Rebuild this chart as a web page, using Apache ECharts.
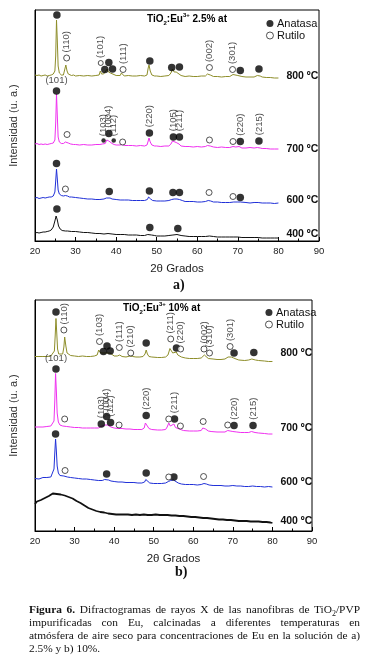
<!DOCTYPE html>
<html><head><meta charset="utf-8">
<script src="https://cdn.jsdelivr.net/npm/echarts@6/dist/echarts.min.js"></script>
<style>
html,body{margin:0;padding:0;background:#fff;}
#c{width:366px;height:660px;position:absolute;left:0;top:0;}
#cap{position:absolute;left:29px;top:603px;width:331px;font-family:"Liberation Serif","DejaVu Serif",serif;font-size:11.4px;line-height:13px;color:#111;}
#cap div{text-align:justify;text-align-last:justify;}
#cap div.last{text-align:left;text-align-last:left;}
</style></head>
<body>
<div id="c"></div>
<div id="cap">
<div><b>Figura 6.</b> Difractogramas de rayos X de las nanofibras de TiO<sub style="font-size:8px;line-height:0">2</sub>/PVP</div>
<div>impurificadas con Eu, calcinadas a diferentes temperaturas en</div>
<div>atmósfera de aire seco para concentraciones de Eu en la solución de a)</div>
<div class="last">2.5% y b) 10%.</div>
</div>
<script>
// ---------- Panel a: TiO2:Eu3+ 2.5% at  (2θ, intensity a.u.) ----------
const a800 = [[20,166],[20.5,165.5],[21,166],[21.5,165],[22,165.5],[22.5,166],[23,165],[23.5,165.5],[24,166],[24.5,167],[24.9,170],[25.1,185],[25.3,221],[25.5,200],[25.7,175],[26,168],[26.5,166],[27,166],[27.4,168],[27.6,176],[27.9,170],[28.2,167],[28.5,166],[29,165.5],[29.5,166],[30,165],[31,165.5],[32,165],[33,165.5],[34,165],[35,165.5],[35.8,166],[36.1,170],[36.4,167],[36.9,167],[37.3,168],[37.8,172],[38.1,169],[38.6,168],[39,166.5],[40,165.5],[41,165.5],[41.3,168],[41.6,166],[42,165],[43,165.5],[44,165],[45,165],[46,165.5],[47,165],[47.6,166],[47.9,173],[48.1,176],[48.4,170],[48.8,166],[49.5,165],[50,165],[51,164.5],[52,165],[53,165.5],[53.5,168],[53.9,172],[54.3,169],[54.8,169],[55.1,171],[55.5,167],[56,165.5],[57,164.5],[58,165],[59,164.5],[60,164.5],[61,165],[62,165],[62.5,167],[62.8,169],[63.2,166],[64,164.5],[65,164.5],[66,164],[67,164.5],[68,164.5],[68.8,166.5],[69.2,166],[70,165.5],[70.4,166.5],[71,164.5],[72,164],[73,164],[74,164],[74.8,165.5],[75.1,167],[75.5,165],[76,164],[77,163.5],[78,163.5],[79,163],[80,163]];
const a700 = [[20,97],[20.5,97.5],[21,96.5],[21.5,97],[22,96.5],[22.5,97],[23,96.5],[23.5,97],[24,97.5],[24.5,98],[24.9,101],[25.1,118],[25.3,147],[25.5,125],[25.7,104],[26,99],[26.5,97.5],[27,97.5],[27.5,99],[27.8,100],[28.2,98],[28.8,97],[29.5,96.5],[30,96.5],[31,96],[32,96.5],[33,96],[34,96],[35,96.5],[36,96.5],[36.6,97],[36.9,98],[37.3,97.5],[37.7,101],[37.9,103],[38.2,100],[38.6,99],[39,97.5],[39.5,96.5],[40,96],[41,96],[41.5,96.5],[42,95.5],[43,95.5],[44,95.5],[45,95],[46,95.5],[47,95],[47.6,96],[47.9,100],[48.1,103],[48.4,99],[48.8,96],[49.5,95],[50,95],[51,94.5],[52,95],[53,95],[53.5,97],[53.9,100],[54.3,98],[54.8,98.5],[55.1,100],[55.5,97],[56,95],[57,94.5],[58,94.5],[59,94],[60,94.5],[61,94],[62,94.5],[62.5,95.5],[62.8,96.5],[63.2,95],[64,94],[65,93.5],[66,94],[67,93.5],[68,93.5],[68.8,94.5],[69.5,94],[70.3,94.5],[71,93],[72,93],[73,93.5],[74,93],[74.8,93.5],[75.1,94],[75.5,93],[76,92.5],[77,92.5],[78,92],[79,92],[80,92]];
const a600 = [[20,43],[20.5,43.5],[21,42.5],[21.5,43],[22,43.5],[22.5,43],[23,43.5],[23.5,44],[24,44],[24.5,45],[24.9,49],[25.1,60],[25.3,72],[25.5,62],[25.7,51],[26,47],[26.5,45.5],[27,45],[27.5,45.5],[28,45],[28.5,44],[29,44],[30,43.5],[31,43],[32,42.5],[33,42],[34,42],[35,41.5],[36,41.5],[37,42],[37.6,43],[38,43.5],[38.5,43],[39,42],[40,41.5],[41,41],[42,41],[43,41],[44,40.5],[45,40.5],[46,40.5],[47,40.5],[47.7,41.5],[48,44],[48.2,45],[48.5,42],[49,40.5],[50,40],[51,40],[52,40],[53,40.5],[53.7,41.5],[54.3,42],[55,42],[55.6,41.5],[56.3,40.5],[57,39.5],[58,39.5],[59,39.5],[60,39],[61,39],[62,39.5],[62.7,40.5],[63.3,40],[64,39],[65,39],[66,38.5],[67,38.5],[68,38.5],[69,39],[70,39],[70.6,39],[71,38.5],[72,38.5],[73,38],[74,38.5],[75,38.5],[76,38],[77,38],[78,38],[79,37.5],[80,38]];
const a400 = [[20,8],[20.5,8.5],[21,8],[21.5,8.5],[22,9],[22.5,9],[23,9.5],[23.5,10],[24,11],[24.5,14],[24.9,20],[25.2,25],[25.5,21],[25.8,15],[26.2,12],[26.7,10.5],[27.5,10],[28,10],[29,9.5],[30,9.5],[31,9],[32,8.5],[33,8.5],[34,8],[35,7.5],[36,7.5],[37,7],[38,7.5],[39,7],[40,6.5],[41,6.5],[42,6.5],[43,6],[44,6],[45,6],[46,5.5],[47,5.5],[47.8,6.5],[48.2,7.5],[48.7,6],[49.5,5.5],[50,5],[51,5],[52,5],[53,5.5],[54,6],[55,6.5],[56,5.5],[57,5],[58,4.5],[59,4.5],[60,4.5],[61,4.5],[62,4.5],[63,5],[64,4.5],[65,4],[66,4],[67,4],[68,4],[69,4],[70,4],[71,3.5],[72,3.5],[73,3.5],[74,3.5],[75,3.5],[76,3],[77,3],[78,3],[79,3],[80,3]];
// markers: [2θ, height, kind (L big / S small), hkl label, label orientation (v / h)]
const anaA = [[25.4,226,'L','',''],[37.2,171.5,'L','',''],[38.2,178.5,'L','',''],[39.1,172,'L','',''],[48.3,180,'L','',''],[53.7,173.5,'L','',''],[55.6,174,'L','',''],[70.6,170.5,'L','',''],[75.2,172,'L','',''],
  [25.3,150,'L','(101)','h'],[36.9,100.5,'S','(103)','v'],[38.2,107.5,'L','(004)','v'],[39.4,100.5,'S','(112)','v'],[48.2,108,'L','(220)','v'],[54.1,104,'L','(105)','v'],[55.6,104,'L','(211)','v'],[70.6,99.5,'L','(220)','v'],[75.2,100,'L','(215)','v'],
  [25.3,77.5,'L','',''],[38.3,49.5,'L','',''],[48.2,50,'L','',''],[54.0,48.5,'L','',''],[55.6,48.5,'L','',''],[70.6,43.5,'L','',''],
  [25.4,32,'L','',''],[48.3,13.5,'L','',''],[55.2,12.5,'L','','']];
const rutA = [[27.8,183,'L','(110)','v'],[36.2,178,'S','(101)','v'],[41.7,171.5,'L','(111)','v'],[63.0,173.5,'L','(002)','v'],[68.7,171.5,'L','(301)','v'],
  [27.9,106.5,'L','',''],[41.6,99,'L','',''],[63.0,101,'L','',''],[68.8,99.5,'L','',''],
  [27.5,52,'L','',''],[62.9,48.5,'L','',''],[68.8,44.5,'L','','']];

// ---------- Panel b: TiO2:Eu3+ 10% at ----------
const b800 = [[20,174.5],[20.5,174],[21,174.5],[21.5,174],[22,174.5],[22.5,175],[23,174.5],[23.5,175],[24,175],[24.5,176],[24.9,180],[25.1,195],[25.3,212.5],[25.5,198],[25.7,182],[26,177],[26.5,176],[27,177],[27.3,184],[27.5,194],[27.8,185],[28.1,178],[28.5,176],[29,175.5],[29.5,175],[30,175],[31,174.5],[32,175],[33,174.5],[34,174.5],[35,175],[35.7,176],[36.1,181],[36.3,183],[36.6,178],[37,177],[37.4,178],[37.8,179.5],[38.1,178],[38.5,177.5],[39,178],[39.4,176],[40,175],[40.8,175],[41.1,177],[41.4,176],[42,174.5],[43,174],[44,175],[44.3,176],[44.7,174.5],[45.5,174],[46.5,174],[47.3,174.5],[47.8,177],[48.1,181],[48.4,177],[48.8,174.5],[49.5,174],[50,174],[51,173.5],[52,173.5],[53,174],[53.6,176],[54.1,182.5],[54.4,181],[54.8,178],[55.2,177.5],[55.7,179],[56.1,176],[56.6,175.5],[57,174],[58,173],[59,172.5],[60,172.5],[61,172.5],[62,173],[62.5,175],[62.8,176],[63.2,174],[63.8,172.5],[64.2,173],[65,172],[66,171.5],[67,171.5],[68,172],[68.8,174],[69.2,176],[69.6,174],[70.2,173],[70.8,172],[71.5,171],[72,171],[73,170.5],[74,171],[74.8,172],[75.2,172.5],[75.7,171],[76.5,170.5],[77,170],[78,170],[79,169.5],[80,169.5]];
const b700 = [[20,104],[20.5,103.5],[21,104],[21.5,104.5],[22,104],[22.5,104.5],[23,104.5],[23.5,105],[24,105],[24.5,106],[24.8,110],[25.0,130],[25.2,157.5],[25.4,140],[25.6,118],[25.9,109],[26.3,106],[27,105],[27.5,105.5],[28,104.5],[28.5,104],[29,104],[30,103.5],[31,103.5],[32,103],[33,103],[34,103],[35,103],[36,103],[36.7,104.5],[37.1,104],[37.6,106],[37.9,108],[38.3,106],[38.7,105.5],[39.2,104],[40,103],[41,102.5],[41.5,103],[42,102.5],[43,102],[44,102],[45,101.5],[46,101.5],[47,101.5],[47.6,103],[47.9,108],[48.1,110],[48.4,106],[48.8,102.5],[49.5,101.5],[50,101],[51,101],[52,101],[53,101.5],[53.4,104],[53.8,108],[54.2,105],[54.7,104.5],[55.1,107],[55.5,103.5],[56,102],[56.8,101.5],[57.5,100.5],[58,100],[59,100],[60,100],[61,100],[62,100.5],[62.4,103],[62.7,104.5],[63.1,102],[63.8,100],[64.5,99.5],[65,99.5],[66,99],[67,99],[68,99],[68.7,100.5],[69.3,100],[70,99.5],[70.3,100.5],[71,99],[72,98.5],[73,98.5],[74,98.5],[74.7,99.5],[75.1,100],[75.6,98.5],[76.5,98],[77,97.5],[78,97.5],[79,97],[80,97]];
const b600 = [[20,52.5],[20.5,53],[21,52],[21.5,53],[22,53.5],[22.5,53],[23,53.5],[23.5,54],[24,54],[24.5,55.5],[24.8,62],[25.0,78],[25.2,92],[25.4,80],[25.6,65],[25.9,58],[26.3,55.5],[26.8,54.5],[27.3,55],[27.7,55],[28.2,54],[29,53.5],[30,53],[31,52.5],[32,52],[33,52],[34,51.5],[35,51],[36,50.5],[37,50.5],[37.6,51.5],[38.1,52],[38.6,51],[39.2,50],[40,49.5],[41,49],[42,49],[43,48.5],[44,48.5],[45,48.5],[46,48],[47,48],[47.7,49],[48,51.5],[48.2,52],[48.5,49.5],[49,48],[50,47.5],[51,47.5],[52,47.5],[53,48],[53.7,49.5],[54.3,50.5],[55,51],[55.5,50],[56.2,48],[57,47],[58,46.5],[59,46.5],[60,46.5],[61,46],[62,46.5],[62.7,47.5],[63.3,47],[64,46],[65,45.5],[66,45.5],[67,45.5],[68,45],[69,45],[70,45.5],[71,45],[72,45],[73,44.5],[74,44.5],[75,45],[76,44.5],[77,44.5],[78,44],[79,44.5],[80,44]];
const b400 = [[20,27],[20.5,29.5],[21,28],[21.5,31],[22,30],[22.5,33],[23,32],[23.5,35],[24,34],[24.5,37.5],[25,35.5],[25.5,37],[26,35],[26.5,36.5],[27,34.5],[27.5,35.5],[28,33.5],[28.5,34],[29,32],[29.5,32.5],[30,30.5],[30.5,30],[31,28.5],[31.5,28],[32,26],[32.5,25.5],[33,23.5],[33.5,23],[34,21],[34.5,21.5],[35,19.5],[35.5,20],[36,18.5],[36.5,19],[37,17.5],[37.5,18.5],[38,16.5],[38.5,17.5],[39,16],[39.5,17],[40,16],[40.5,16.5],[41,15.5],[41.5,16.5],[42,15.5],[42.5,16.5],[43,15],[43.5,16.5],[44,15.5],[44.5,16],[45,15],[45.5,16.5],[46,15],[46.5,16],[47,15.5],[47.5,16.5],[48,15],[48.5,16],[49,15],[49.5,16],[50,15],[50.5,16.5],[51,15],[51.5,16],[52,15.5],[52.5,16],[53,14.5],[53.5,16],[54,15],[54.5,15.5],[55,14.5],[55.5,15.5],[56,14.5],[56.5,15],[57,14],[57.5,15],[58,13.5],[58.5,14.5],[59,13.5],[59.5,14],[60,13],[60.5,14],[61,12.5],[61.5,13.5],[62,12.5],[62.5,13],[63,12],[63.5,13],[64,11.5],[64.5,12.5],[65,11],[65.5,12],[66,11],[66.5,11.5],[67,10.5],[67.5,11.5],[68,10],[68.5,11],[69,10],[69.5,11],[70,9.5],[70.5,10.5],[71,9.5],[71.5,10],[72,9],[72.5,10],[73,9],[73.5,10],[74,8.5],[74.5,9.5],[75,8.5],[75.5,9.5],[76,8],[76.5,9.5],[77,8],[77.5,9],[78,8],[78.5,9],[79,7.5],[79.5,8.5],[80,8]];
const anaB = [[25.3,219,'L','',''],[37.3,179.5,'L','',''],[38.2,185,'L','',''],[39.0,180,'L','',''],[48.1,188,'L','',''],[55.75,183,'L','',''],[70.3,178,'L','',''],[75.3,178.5,'L','',''],
  [25.3,162,'L','(101)','h'],[36.75,107,'L','(103)','v'],[38.1,114.5,'L','(004)','v'],[39.1,108.5,'L','(112)','v'],[48.1,115.5,'L','(220)','v'],[55.25,112,'L','(211)','v'],[70.3,105.5,'L','(220)','v'],[75.1,105.5,'L','(215)','v'],
  [25.2,97,'L','',''],[38.1,57,'L','',''],[48.1,58,'L','',''],[55.1,54,'L','','']];
const rutB = [[27.3,201,'L','(110)','v'],[36.3,189.5,'L','(103)','v'],[41.3,183.5,'L','(111)','v'],[44.2,178,'L','(210)','v'],[54.3,192,'L','(211)','v'],[56.8,182,'L','(220)','v'],[62.7,182,'L','(002)','v'],[64.1,178,'L','(310)','v'],[69.3,184.5,'L','(301)','v'],
  [27.5,112,'L','',''],[41.25,106,'L','',''],[53.8,112,'L','',''],[56.75,105,'L','',''],[62.5,109.5,'L','',''],[68.7,106,'L','',''],
  [27.6,60.5,'L','',''],[53.8,54,'L','',''],[62.6,54.5,'L','','']];

const tempLabels = ['800 ºC','700 ºC','600 ºC','400 ºC'];
const xTicks = {min:20, max:90, interval:10};
const titles = ['{m|TiO}{s|2}{m|:Eu}{p|3+}{m| 2.5% at}','{m|TiO}{s|2}{m|:Eu}{p|3+}{m| 10% at}'];

const FONT = 'Arial, "Liberation Sans", sans-serif';
const chart = echarts.init(document.getElementById('c'), null, {renderer:'canvas'});

function lineS(data, color, gi, lbl, lw, dy){
  return {type:'line', xAxisIndex:gi, yAxisIndex:gi, data:data, symbol:'none', showSymbol:false,
    lineStyle:{color:color, width:lw}, silent:true, animation:false, z:2,
    endLabel:{show:true, formatter:lbl, distance:8, offset:[0,dy], color:'#111', fontFamily:FONT, fontWeight:'bold', fontSize:10.5}};
}
function markS(name, arr, gi, filled){
  return {type:'scatter', name:name, xAxisIndex:gi, yAxisIndex:gi, animation:false, z:5, silent:true,
    symbol:'circle',
    itemStyle: filled ? {color:'#000'} : {color:'#fff', borderColor:'#111', borderWidth:0.9},
    data: arr.map(function(d){
      const it = {value:[d[0], d[1]], symbolSize: filled ? (d[2]==='S'?4.5:7.5) : (d[2]==='S'?5:6)};
      if (d[3]) {
        it.label = d[4]==='h'
          ? {show:true, formatter:d[3], position:'top', distance:2, color:'#222', fontFamily:FONT, fontSize:9.5}
          : {show:true, formatter:d[3], position:'top', rotate:90, align:'left', verticalAlign:'middle', distance:2, color:'#222', fontFamily:FONT, fontSize:9.5};
      }
      return it;
    })};
}
function xAx(gi){
  return {type:'value', gridIndex:gi, min:xTicks.min, max:xTicks.max, interval:xTicks.interval,
    name:'2\u03b8 Grados', nameLocation:'middle', nameGap:22, nameTextStyle:{fontFamily:FONT, fontSize:11.5, color:'#222'},
    axisLine:{show:true, lineStyle:{color:'#000', width:1}},
    axisTick:{show:true, inside:true, length:4, lineStyle:{color:'#000'}},
    minorTick:{show:true, splitNumber:2, length:2.5, lineStyle:{color:'#000'}},
    axisLabel:{margin:5, fontFamily:FONT, fontSize:9.5, color:'#222'},
    splitLine:{show:false}};
}
function yAx(gi){
  return {type:'value', gridIndex:gi, min:0, max:231, name:'Intensidad (u. a.)', nameLocation:'middle', nameGap:16,
    nameTextStyle:{fontFamily:FONT, fontSize:11, color:'#333'},
    axisLine:{show:true, lineStyle:{color:'#000'}}, axisTick:{show:false}, axisLabel:{show:false}, splitLine:{show:false}};
}
const rich = {m:{fontFamily:FONT, fontWeight:'bold', fontSize:10, lineHeight:14, verticalAlign:'middle', color:'#111'},
  s:{fontFamily:FONT, fontWeight:'bold', fontSize:6, lineHeight:6, verticalAlign:'bottom', color:'#111'},
  p:{fontFamily:FONT, fontWeight:'bold', fontSize:6, lineHeight:6, verticalAlign:'top', color:'#111'}};
function legendCfg(left, top){
  return {orient:'vertical', left:left, top:top, itemWidth:8, itemHeight:7, itemGap:1, selectedMode:false,
    textStyle:{fontFamily:FONT, fontSize:11, color:'#111', padding:[0,0,0,-2]},
    data:[{name:'Anatasa', icon:'circle'}, {name:'Rutilo', icon:'circle', itemStyle:{color:'#fff', borderColor:'#111', borderWidth:0.9}}]};
}

chart.setOption({
  backgroundColor:'#fff',
  animation:false,
  grid:[{left:34, top:10, width:285, height:231, show:true, borderColor:'#000', borderWidth:1, backgroundColor:'transparent'},
        {left:32, top:300, width:280, height:231, show:true, borderColor:'#000', borderWidth:1, backgroundColor:'transparent'}],
  xAxis:[xAx(0), xAx(1)],
  yAxis:[yAx(0), yAx(1)],
  legend:[legendCfg(261, 13), legendCfg(260, 302)],
  graphic:[
    {type:'text', left:147, top:12, style:{text:titles[0], rich:rich}},
    {type:'text', left:123, top:301, style:{text:titles[1], rich:rich}},
    {type:'text', left:173, top:278, style:{text:'a)', font:'bold 14px "Liberation Serif", serif', fill:'#111'}},
    {type:'text', left:175, top:565, style:{text:'b)', font:'bold 14px "Liberation Serif", serif', fill:'#111'}}
  ],
  series:[
    lineS(a800, '#8e8e2a', 0, tempLabels[0], 1, -2),
    lineS(a700, '#f030f0', 0, tempLabels[1], 1, 0),
    lineS(a600, '#2030d8', 0, tempLabels[2], 1, -3),
    lineS(a400, '#111111', 0, tempLabels[3], 1, -4),
    lineS(b800, '#8e8e2a', 1, tempLabels[0], 1, -8),
    lineS(b700, '#f030f0', 1, tempLabels[1], 1, -6),
    lineS(b600, '#2030d8', 1, tempLabels[2], 1, -5),
    lineS(b400, '#111111', 1, tempLabels[3], 1.8, -2),
    markS('Anatasa', anaA, 0, true),
    markS('Rutilo', rutA, 0, false),
    markS('Anatasa', anaB, 1, true),
    markS('Rutilo', rutB, 1, false)
  ]
});
</script>
</body></html>
